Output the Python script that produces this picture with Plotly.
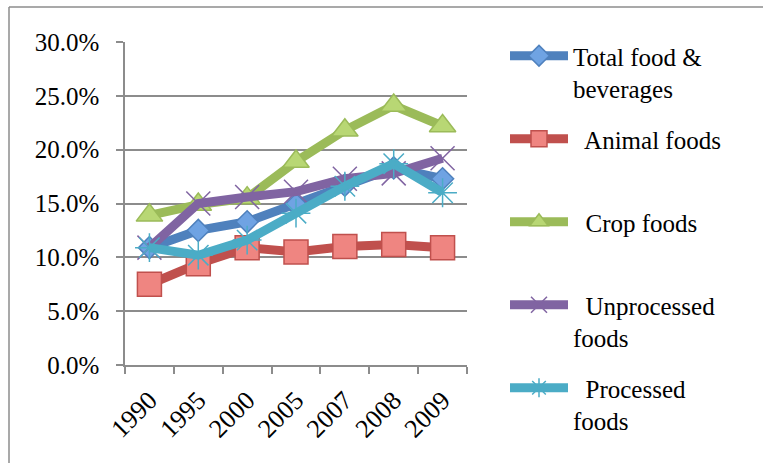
import plotly.graph_objects as go

years = ["1990", "1995", "2000", "2005", "2007", "2008", "2009"]
total_food = [0.109, 0.125, 0.133, 0.149, 0.167, 0.183, 0.173]
animal_foods = [0.075, 0.094, 0.109, 0.105, 0.110, 0.112, 0.109]
crop_foods = [0.139, 0.149, 0.155, 0.189, 0.218, 0.241, 0.222]
unprocessed_foods = [0.109, 0.150, 0.156, 0.161, 0.173, 0.178, 0.192]
processed_foods = [0.109, 0.102, 0.116, 0.141, 0.166, 0.187, 0.160]

y_ticks = [0, 0.05, 0.10, 0.15, 0.20, 0.25, 0.30]

series = [
    ("Total food &<br>beverages", total_food, "#4F81BD", "diamond", "#6FA3E3", "#4F81BD", 17),
    ("  Animal foods<br> ", animal_foods, "#C0504D", "square", "#EF8581", "#C0504D", 24),
    ("  Crop foods<br> ", crop_foods, "#9BBB59", "triangle-up", "#B8D774", "#9BBB59", 23),
    ("  Unprocessed<br>foods", unprocessed_foods, "#8064A2", "x-thin", "#8064A2", "#8064A2", 24),
    ("  Processed<br>foods", processed_foods, "#4BACC6", "asterisk", "#4BACC6", "#4BACC6", 24),
]

fig = go.Figure()
for i, (name, vals, color, sym, fill, edge, size) in enumerate(series):
    fig.add_trace(go.Scatter(
        x=years, y=vals, name=name, mode="lines+markers",
        legendgroup=str(i),
        line=dict(color=color, width=9),
        marker=dict(symbol=sym, size=size, color=fill,
                    line=dict(color=edge, width=1.5)),
    ))

W, H = 763, 463
L, R, T, B = 125, 467, 42, 365
pw, ph = R - L, B - T

def px(x):
    return (x - L) / pw

def py(y):
    return (B - y) / ph

fig.update_layout(
    width=W, height=H,
    margin=dict(l=L, r=W - R, t=T, b=H - B, pad=0),
    paper_bgcolor="white", plot_bgcolor="white",
    font=dict(family="Liberation Serif", size=25, color="#000000"),
    xaxis=dict(
        type="category", range=[-0.5, 6.5], tickson="boundaries",
        ticks="outside", ticklen=7, tickwidth=1.5, tickcolor="#8C8C8C",
        showline=True, linecolor="#8C8C8C", linewidth=1.5,
        showgrid=False, tickangle=-45, ticklabelstandoff=8,
        tickfont=dict(family="Liberation Serif", size=26),
        fixedrange=True,
    ),
    yaxis=dict(
        range=[0, 0.30], tickvals=y_ticks, tickformat=".1%",
        ticks="outside", ticklen=7, tickwidth=1.5, tickcolor="#8C8C8C",
        showline=True, linecolor="#8C8C8C", linewidth=1.5,
        showgrid=True, gridcolor="#8C8C8C", gridwidth=1.5,
        zeroline=False, ticklabelstandoff=12,
        tickfont=dict(family="Liberation Serif", size=25),
        fixedrange=True,
    ),
    legend=dict(
        x=px(505), y=py(33), xanchor="left", yanchor="top",
        font=dict(family="Liberation Serif", size=25, color="#000000"),
        tracegroupgap=15, valign="top", itemwidth=58,
        bgcolor="rgba(0,0,0,0)", maxheight=460,
    ),
    showlegend=True,
    shapes=[
        dict(type="line", xref="paper", yref="paper",
             x0=px(9), x1=px(770), y0=py(7), y1=py(7),
             line=dict(color="#8C8C8C", width=1.5)),
        dict(type="line", xref="paper", yref="paper",
             x0=px(9), x1=px(9), y0=py(7), y1=py(470),
             line=dict(color="#8C8C8C", width=1.5)),
    ],
)

fig.write_html("out.html")
